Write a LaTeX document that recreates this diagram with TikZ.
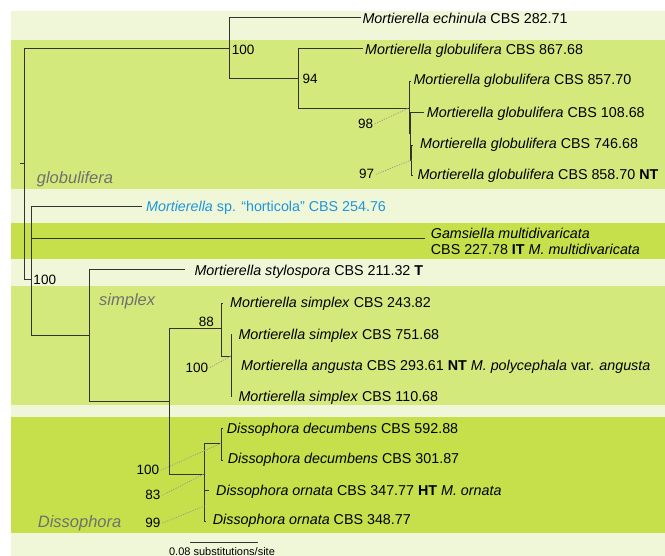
\documentclass[tikz,border=0pt]{standalone}
\usepackage{fontspec}
\setmainfont{Liberation Sans}
\definecolor{bandlight}{HTML}{F0F6D8}
\definecolor{bandmid}{HTML}{D4E97B}
\definecolor{bandstrong}{HTML}{C5E04A}
\definecolor{treeline}{HTML}{333333}
\definecolor{cladegray}{HTML}{707070}
\definecolor{hortblue}{HTML}{1E96DA}
\definecolor{dotgray}{HTML}{999999}
\begin{document}
\begin{tikzpicture}[x=1pt,y=-1pt,
  branch/.style={draw=treeline, line width=0.85pt},
  leaf/.style={anchor=base west, inner sep=0pt, font=\fontsize{14.3}{16}\selectfont},
  bs/.style={inner sep=0pt, font=\fontsize{13.5}{15}\selectfont},
  clade/.style={anchor=base west, inner sep=0pt, text=cladegray, font=\fontsize{16.5}{18}\selectfont\itshape},
  supline/.style={draw=dotgray, line width=0.75pt, dash pattern=on 1.2pt off 1.3pt}]
% background bands
\fill[white] (0,0) rectangle (665,556);
\fill[bandlight] (11,11) rectangle (665,556);
\fill[bandmid] (11,40) rectangle (665,189);
\fill[bandmid] (11,286) rectangle (665,405);
\fill[bandstrong] (11,223) rectangle (665,259);
\fill[bandstrong] (11,417) rectangle (665,533);
\useasboundingbox (0,0) rectangle (665,556);
% internal nodes
\coordinate (Rstub) at (20,163);
\coordinate (R) at (24,163);
\coordinate (G) at (229,48);
\coordinate (E1) at (298,78);
\coordinate (E2) at (409,108);
\coordinate (E3) at (410.5,133);
\coordinate (E4) at (411.5,160);
\coordinate (N1) at (31.5,279);
\coordinate (N2) at (89,335);
\coordinate (N3) at (169,401);
\coordinate (N4) at (221,328);
\coordinate (N5) at (231,356);
\coordinate (D1) at (204,474);
\coordinate (D2) at (221.7,443);
\coordinate (D3) at (204.5,506);
% leaf tips
\coordinate (t-echi) at (361,17.3);
\coordinate (t-g867) at (363,48.5);
\coordinate (t-g857) at (411,81);
\coordinate (t-g108) at (424,112);
\coordinate (t-g746) at (412.5,145);
\coordinate (t-g858) at (412.5,175);
\coordinate (t-hort) at (141.5,206.7);
\coordinate (t-gams) at (425,238.3);
\coordinate (t-stylo) at (185,269);
\coordinate (t-s243) at (223,303);
\coordinate (t-s751) at (232,334);
\coordinate (t-ang) at (232,366);
\coordinate (t-s110) at (232,396);
\coordinate (t-d592) at (222.7,428.5);
\coordinate (t-d301) at (222.7,460);
\coordinate (t-o347) at (209,490.5);
\coordinate (t-o348) at (205.5,521);
% branches
\draw[branch] (Rstub) -- (R);
\draw[branch] (R) |- (G);
\draw[branch] (R) |- (N1);
\draw[branch] (G) |- (t-echi);
\draw[branch] (G) |- (E1);
\draw[branch] (E1) |- (t-g867);
\draw[branch] (E1) |- (E2);
\draw[branch] (E2) |- (t-g857);
\draw[branch] (E2) |- (E3);
\draw[branch] (E3) |- (t-g108);
\draw[branch] (E3) |- (E4);
\draw[branch] (E4) |- (t-g746);
\draw[branch] (E4) |- (t-g858);
\draw[branch] (N1) |- (t-hort);
\draw[branch] (N1) |- (t-gams);
\draw[branch] (N1) |- (N2);
\draw[branch] (N2) |- (t-stylo);
\draw[branch] (N2) |- (N3);
\draw[branch] (N3) |- (N4);
\draw[branch] (N3) |- (D1);
\draw[branch] (N4) |- (t-s243);
\draw[branch] (N4) |- (N5);
\draw[branch] (N5) |- (t-s751);
\draw[branch] (N5) |- (t-ang);
\draw[branch] (N5) |- (t-s110);
\draw[branch] (D1) |- (D2);
\draw[branch] (D1) |- (D3);
\draw[branch] (D2) |- (t-d592);
\draw[branch] (D2) |- (t-d301);
\draw[branch] (D3) |- (t-o347);
\draw[branch] (D3) |- (t-o348);
% leaf labels
\node[leaf] (l-echi) at (362.3,23.3) {\textit{Mortierella echinula} CBS 282.71};
\node[leaf] (l-g867) at (365,55) {\textit{Mortierella globulifera} CBS 867.68};
\node[leaf] (l-g857) at (413.3,85) {\textit{Mortierella globulifera} CBS 857.70};
\node[leaf] (l-g108) at (426.7,117.3) {\textit{Mortierella globulifera} CBS 108.68};
\node[leaf] (l-g746) at (420,148.3) {\textit{Mortierella globulifera} CBS 746.68};
\node[leaf] (l-g858) at (417.3,179.3) {\textit{Mortierella globulifera} CBS 858.70 \textbf{NT}};
\node[leaf, text=hortblue] (l-hort) at (146,211.7) {\textit{Mortierella} sp. “horticola” CBS 254.76};
\node[leaf] (l-gams) at (430.7,238.3) {\textit{Gamsiella multidivaricata}};
\node[leaf] (l-gams2) at (430.7,254.3) {CBS 227.78 \textbf{IT} \textit{M. multidivaricata}};
\node[leaf] (l-stylo) at (194.3,276) {\textit{Mortierella stylospora} CBS 211.32 \textbf{T}};
\node[leaf] (l-s243) at (230,307.3) {\textit{Mortierella simplex} CBS 243.82};
\node[leaf] (l-s751) at (238.3,339.3) {\textit{Mortierella simplex} CBS 751.68};
\node[leaf] (l-ang) at (241,370.7) {\textit{Mortierella angusta} CBS 293.61 \textbf{NT} \textit{M. polycephala} var. \textit{angusta}};
\node[leaf] (l-s110) at (238.3,401.7) {\textit{Mortierella simplex} CBS 110.68};
\node[leaf] (l-d592) at (226.7,434) {\textit{Dissophora decumbens} CBS 592.88};
\node[leaf] (l-d301) at (227.7,464) {\textit{Dissophora decumbens} CBS 301.87};
\node[leaf] (l-o347) at (216,495) {\textit{Dissophora ornata} CBS 347.77 \textbf{HT} \textit{M. ornata}};
\node[leaf] (l-o348) at (212.7,525) {\textit{Dissophora ornata} CBS 348.77};
% clade labels
\node[clade] (c-glob) at (36.7,184) {globulifera};
\node[clade] (c-simp) at (99,305.5) {simplex};
\node[clade] (c-diss) at (37.7,527.8) {Dissophora};
% bootstrap values
\node[bs, anchor=base west] (b-G) at (231.7,54.3) {100};
\node[bs, anchor=base west] (b-E1) at (302.3,83.3) {94};
\node[bs, anchor=base east] (b-E2) at (373.3,128.3) {98};
\node[bs, anchor=base east] (b-E4) at (374.3,179) {97};
\node[bs, anchor=base west] (b-N1) at (33.3,285) {100};
\node[bs, anchor=base east] (b-N4) at (214,326.7) {88};
\node[bs, anchor=base east] (b-N5) at (208.3,372.3) {100};
\node[bs, anchor=base east] (b-D2) at (159.3,475) {100};
\node[bs, anchor=base east] (b-D1) at (160.7,500) {83};
\node[bs, anchor=base east] (b-D3) at (160.7,527.7) {99};
\draw[supline] ([xshift=1.5pt]b-E2.east) -- (E2);
\draw[supline] ([xshift=1.5pt]b-E4.east) -- (E4);
\draw[supline] ([xshift=1.5pt]b-N5.east) -- (N5);
\draw[supline] ([xshift=1.5pt]b-D2.east) -- (D2);
\draw[supline] ([xshift=1.5pt]b-D1.east) -- (D1);
\draw[supline] ([xshift=1.5pt]b-D3.east) -- (D3);
% scale bar
\coordinate (sb1) at (190,542);
\coordinate (sb2) at (258,542);
\draw[branch] (sb1) -- (sb2);
\node[inner sep=0pt, anchor=base, font=\fontsize{11}{13}\selectfont] (sbl) at (222,555) {0.08 substitutions/site};
\end{tikzpicture}
\end{document}
